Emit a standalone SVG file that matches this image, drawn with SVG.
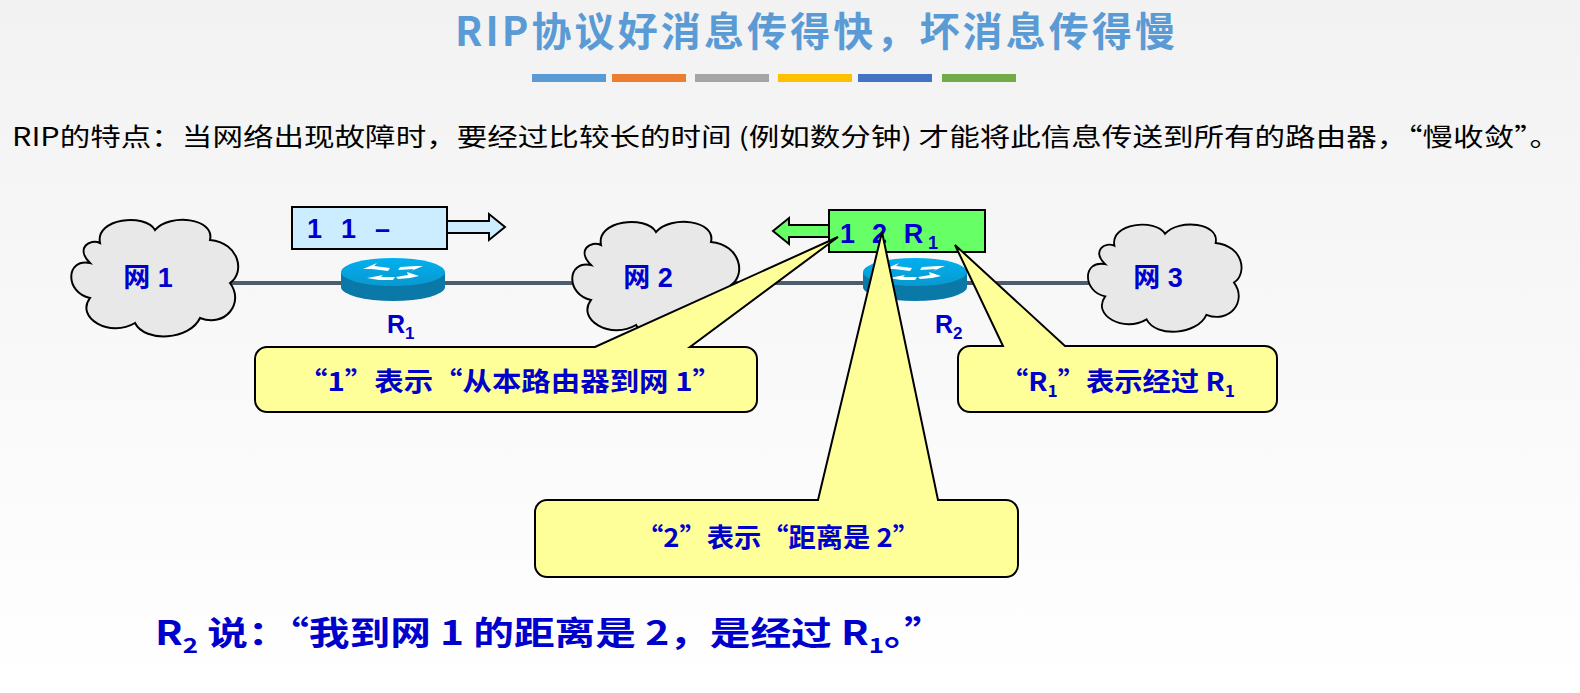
<svg xmlns="http://www.w3.org/2000/svg" width="1580" height="693" viewBox="0 0 1580 693">
<defs>
<linearGradient id="bg" x1="0" y1="0" x2="0" y2="1"><stop offset="0" stop-color="#f2f2f2"/><stop offset="1" stop-color="#ffffff"/></linearGradient>
<linearGradient id="rt" x1="0" y1="0" x2="0" y2="1"><stop offset="0" stop-color="#00b0f0"/><stop offset="1" stop-color="#0a98d0"/></linearGradient>
<path id="cloud" d="M-55,-35 C-60,-60 -10,-65 0,-48 C15,-65 60,-60 55,-38 C85,-35 90,-5 75,5 C90,25 70,50 45,40 C35,62 -10,65 -20,45 C-45,60 -80,40 -65,20 C-90,15 -90,-20 -65,-15 C-80,-30 -65,-40 -55,-35 Z" fill="#e8e8e8" stroke="#000" stroke-width="2"/>
<g id="router"><path d="M-52,0 v15 a52,14 0 0 0 104,0 v-15 z" fill="#0a79a8"/><ellipse cx="0" cy="0" rx="52" ry="14" fill="url(#rt)"/><path d="M-30,-3 l14,-6 l-3,3 l16,2 l-2,3 l-16,-2 z M30,-6 l-12,5 l3,-2 l-16,1 l2,-3 l16,-1z M-26,6 l16,-3 l-2,2 l14,0 l-2,3 l-14,0z M26,4 l-12,-4 l1,3 l-12,2 l2,2 l12,-1z" fill="#fff"/></g>
</defs>
<style>
.lbl{font-family:"Liberation Sans","Noto Sans CJK SC",sans-serif;font-weight:bold;fill:#0000cc}
.cjk{font-family:"Noto Sans CJK SC",sans-serif;font-weight:bold;fill:#0000cc}
.call{fill:#ffff99;stroke:#000;stroke-width:2}
</style>
<rect width="1580" height="693" fill="url(#bg)"/>
<text x="455" y="46" textLength="720" lengthAdjust="spacing" font-family="Noto Sans CJK SC,sans-serif" font-weight="bold" font-size="40" fill="#5b9bd5">RIP协议好消息传得快，坏消息传得慢</text>
<g>
<rect x="532" y="74" width="74" height="8" fill="#5b9bd5"/><rect x="612" y="74" width="74" height="8" fill="#ed7d31"/><rect x="695" y="74" width="74" height="8" fill="#a5a5a5"/><rect x="778" y="74" width="74" height="8" fill="#ffc000"/><rect x="858" y="74" width="74" height="8" fill="#4472c4"/><rect x="942" y="74" width="74" height="8" fill="#70ad47"/>
</g>
<text x="12" y="146" textLength="1548" lengthAdjust="spacingAndGlyphs" font-family="Noto Sans CJK SC,sans-serif" font-size="25" fill="#000">RIP的特点：当网络出现故障时，要经过比较长的时间 (例如数分钟) 才能将此信息传送到所有的路由器，“慢收敛”。</text>
<g id="connectors"><line x1="230" y1="283" x2="1095" y2="283" stroke="#4e5d6c" stroke-width="4"/></g>
<g id="net1"><use href="#cloud" transform="translate(155,278)"/><text class="lbl" x="148" y="287" font-size="27" text-anchor="middle">网 1</text></g>
<g id="net2"><use href="#cloud" transform="translate(656,280)"/><text class="lbl" x="648" y="287" font-size="27" text-anchor="middle">网 2</text></g>
<g id="net3"><use href="#cloud" transform="translate(1165,278) scale(0.92)"/><text class="lbl" x="1158" y="287" font-size="27" text-anchor="middle">网 3</text></g>
<g id="r1"><use href="#router" transform="translate(393,272)"/><text class="lbl" x="387" y="333" font-size="25">R<tspan font-size="17" dy="6">1</tspan></text></g>
<g id="r2"><use href="#router" transform="translate(915,272)"/><text class="lbl" x="935" y="333" font-size="25">R<tspan font-size="17" dy="6">2</tspan></text></g>
<g id="msg1"><rect x="292" y="207" width="155" height="42" fill="#ccecff" stroke="#000" stroke-width="2"/><text class="lbl" x="307" y="238" font-size="27" textLength="83" lengthAdjust="spacing">1 1 –</text>
<path d="M447,221 h42 v-7 l16,13 l-16,13 v-7 h-42 z" fill="#ccecff" stroke="#000" stroke-width="2"/></g>
<g id="msg2"><rect x="829" y="210" width="156" height="42" fill="#66ff66" stroke="#000" stroke-width="2"/>
<path d="M829,225 h-40 v-7 l-16,13 l16,13 v-7 h40 z" fill="#66ff66" stroke="#000" stroke-width="2"/><text class="lbl" x="840" y="243" font-size="27" textLength="98" lengthAdjust="spacing">1 2 R<tspan font-size="18" dy="6">1</tspan></text></g>
<g id="c1"><path class="call" d="M270,347 H595 L838,237 L690,347 H745 a12,12 0 0 1 12,12 v41 a12,12 0 0 1 -12,12 H267 a12,12 0 0 1 -12,-12 v-41 a12,12 0 0 1 12,-12 z"/><text class="cjk" x="298" y="391" font-size="26" textLength="424" lengthAdjust="spacingAndGlyphs">“1”表示“从本路由器到网 1”</text></g>
<g id="c3"><path class="call" d="M970,346 H1003 L955,245 L1065,346 H1265 a12,12 0 0 1 12,12 v42 a12,12 0 0 1 -12,12 H970 a12,12 0 0 1 -12,-12 v-42 a12,12 0 0 1 12,-12 z"/><text class="cjk" x="1000" y="391" font-size="26" textLength="235" lengthAdjust="spacingAndGlyphs">“R<tspan font-size="16" dy="6">1</tspan><tspan dy="-6">”表示经过 R</tspan><tspan font-size="16" dy="6">1</tspan></text></g>
<g id="c2"><path class="call" d="M547,500 H818 L882,232 L938,500 H1006 a12,12 0 0 1 12,12 v53 a12,12 0 0 1 -12,12 H547 a12,12 0 0 1 -12,-12 v-53 a12,12 0 0 1 12,-12 z"/><text class="cjk" x="636" y="547" font-size="26" textLength="284" lengthAdjust="spacingAndGlyphs">“2”表示“距离是 2”</text></g>
<text class="cjk" x="155" y="645" font-size="33" textLength="790" lengthAdjust="spacingAndGlyphs">R<tspan font-size="21" dy="8">2</tspan><tspan dy="-8"> 说：“我到网 1 的距离是 2，是经过 R</tspan><tspan font-size="21" dy="8">1</tspan><tspan dy="-8">。”</tspan></text>
</svg>
